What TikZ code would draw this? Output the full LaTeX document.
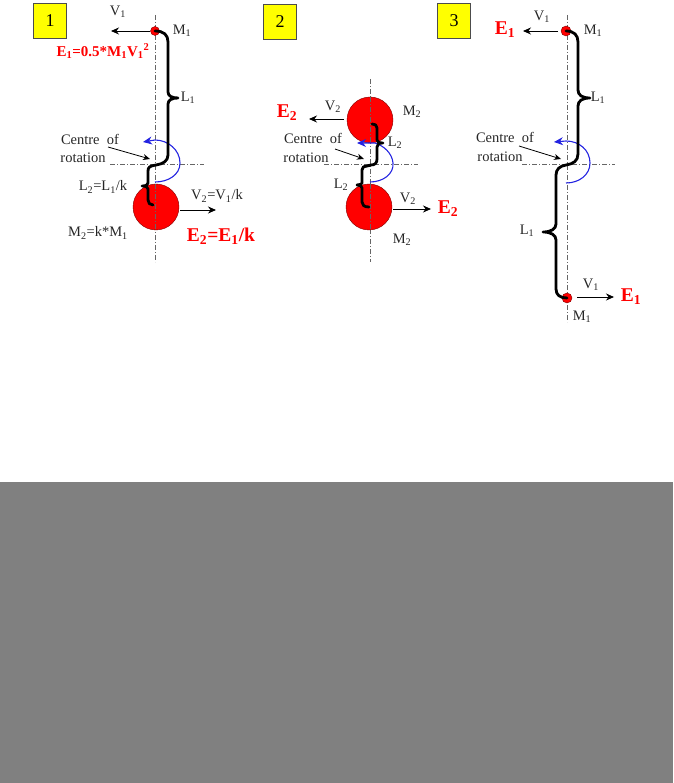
\documentclass[tikz,border=0pt]{standalone}
\usepackage{fontspec}
\setmainfont{Liberation Serif}
\usetikzlibrary{arrows.meta}
\definecolor{myyellow}{RGB}{255,255,0}
\definecolor{myred}{RGB}{255,0,0}
\definecolor{mygray}{RGB}{128,128,128}
\definecolor{myblue}{RGB}{35,35,225}
\tikzset{
	label/.style = {inner sep=0pt, font=\fontsize{14.5}{16}\selectfont, text=black!85},
	energy/.style = {inner sep=0pt, font=\fontsize{19.5}{21}\selectfont\bfseries, text=myred},
	numbox/.style = {draw=black!70, fill=myyellow, minimum width=33pt, minimum height=35pt, inner sep=0pt, font=\fontsize{18}{20}\selectfont},
	mass/.style = {circle, draw=red!50!black, fill=myred, inner sep=0pt},
	axis/.style = {black!60, line width=0.7pt, dash pattern=on 5pt off 2pt on 1pt off 2pt},
	velocity/.style = {black, line width=0.9pt, -{Stealth[length=8pt,width=7pt]}},
	pointer/.style = {black, line width=0.8pt, -{Stealth[length=7pt,width=6pt]}},
	curly/.style = {black, line width=2.8pt, line cap=round, line join=round},
	spin/.style = {myblue, line width=1.1pt, -{Stealth[length=9pt,width=8pt]}}
}
\begin{document}
\begin{tikzpicture}[x=1pt, y=-1pt]

\useasboundingbox (0,0) rectangle (673,783);
\fill[mygray] (0,482) rectangle (673,783);

\foreach \a/\x/\y in {1/50/21,2/280/22,3/454/21}{
	\node [numbox] (box\a) at (\x,\y) {\a};
};

%----------AXES-------------%
\foreach \a/\x/\ytop/\ybot in {1/155/15/262,2/370/79/262,3/567/15/322}{
	\coordinate (vtop\a) at (\x,\ytop);
	\coordinate (vbot\a) at (\x,\ybot);
	\draw[axis] (vtop\a) -- (vbot\a);
};
\foreach \a/\xl/\xr in {1/110/204,2/324/418,3/522/615}{
	\coordinate (hleft\a) at (\xl,164);
	\coordinate (hright\a) at (\xr,164);
	\draw[axis] (hleft\a) -- (hright\a);
};

%----------MASSES-------------%
\node [mass, minimum size=9pt] (ma) at (155,31) {};
\node [mass, minimum size=46pt] (mb) at (156,207) {};
\node [mass, minimum size=46pt] (mc) at (370,120) {};
\node [mass, minimum size=46pt] (md) at (369,207) {};
\node [mass, minimum size=10pt] (me) at (566,31) {};
\node [mass, minimum size=10pt] (mf) at (567,298) {};
\draw[axis] (155,184) -- (155,230);
\draw[axis] (370,97) -- (370,143);
\draw[axis] (370,184) -- (370,230);

%----------SPIN-------------%
\coordinate (spina) at (155,182);
\coordinate (tipa) at (143,142);
\draw[spin] (spina) .. controls (168,182) and (180,175) .. (180,163) .. controls (180,150) and (168,140) .. (155,140) -- (tipa);
\coordinate (spinb) at (370,182);
\coordinate (tipb) at (357,143);
\draw[spin] (spinb) .. controls (383,182) and (394,174) .. (393,163) .. controls (392,153) and (384,146) .. (375,143) -- (tipb);
\coordinate (spinc) at (566,183);
\coordinate (tipc) at (554,142);
\draw[spin] (spinc) .. controls (579,183) and (590,175) .. (590,163) .. controls (590,150) and (579,141) .. (566,141) -- (tipc);

%----------LEVERS-------------%
\draw[curly] (ma.center) .. controls (164,31) and (168,35) .. (168,42) -- (168,92) .. controls (168,96) and (172,98) .. (178,98)
	.. controls (172,98) and (168,100) .. (168,104) -- (168,155) .. controls (168,161) and (163,164) .. (156,165)
	.. controls (150,166) and (148,167) .. (148,171) -- (148,183) .. controls (148,185) and (146,186) .. (142,186)
	.. controls (146,186) and (148,187) .. (148,189) -- (148,200) .. controls (148,203) and (150,205) .. (153,205);

\draw[curly] (372,124) .. controls (375,124) and (377,125) .. (377,128) -- (377,140) .. controls (377,142) and (379,143) .. (383,143)
	.. controls (379,143) and (377,144) .. (377,147) -- (377,159) .. controls (377,163) and (375,165) .. (371,165)
	-- (367,166) .. controls (364,166) and (362,167) .. (362,170) -- (362,183) .. controls (362,184) and (360,185) .. (357,185)
	.. controls (360,185) and (362,186) .. (362,188) -- (362,202) .. controls (362,205) and (364,207) .. (md.center);

\draw[curly] (me.center) .. controls (574,31) and (578,35) .. (578,42) -- (578,90) .. controls (578,95) and (582,98) .. (590,98)
	.. controls (582,98) and (578,101) .. (578,106) -- (578,154) .. controls (578,161) and (573,164) .. (566,165)
	.. controls (560,166) and (556,169) .. (556,175) -- (556,224) .. controls (556,229) and (551,232) .. (543,232)
	.. controls (551,232) and (556,235) .. (556,240) -- (556,289) .. controls (556,295) and (560,298) .. (mf.center);

%----------VELOCITIES-------------%
\coordinate (va) at (150,31);
\coordinate (vaend) at (111,31);
\draw[velocity] (va) -- (vaend);
\coordinate (vb) at (180,210);
\coordinate (vbend) at (216,210);
\draw[velocity] (vb) -- (vbend);
\coordinate (vc) at (344,119);
\coordinate (vcend) at (309,119);
\draw[velocity] (vc) -- (vcend);
\coordinate (vd) at (393,209);
\coordinate (vdend) at (431,209);
\draw[velocity] (vd) -- (vdend);
\coordinate (ve) at (558,31);
\coordinate (veend) at (523,31);
\draw[velocity] (ve) -- (veend);
\coordinate (vf) at (577,297);
\coordinate (vfend) at (614,297);
\draw[velocity] (vf) -- (vfend);

%----------LABELS-------------%
\node [label] (va1) at (118,12) {V\textsubscript{1}};
\node [label] (ma1) at (182,31) {M\textsubscript{1}};
\node [inner sep=0pt, font=\fontsize{15}{17}\selectfont\bfseries, text=myred] (ea1) at (103,51) {E\textsubscript{1}=0.5*M\textsubscript{1}V\textsubscript{1}\textsuperscript{2}};
\node [label] (la1) at (188,98) {L\textsubscript{1}};
\node [label] (lb1) at (103,187) {L\textsubscript{2}=L\textsubscript{1}/k};
\node [label] (vb1) at (217,196) {V\textsubscript{2}=V\textsubscript{1}/k};
\node [label] (mb1) at (98,233) {M\textsubscript{2}=k*M\textsubscript{1}};
\node [energy] (eb1) at (221,236) {E\textsubscript{2}=E\textsubscript{1}/k};

\node [energy] (ec2) at (287,113) {E\textsubscript{2}};
\node [label] (vc2) at (333,107) {V\textsubscript{2}};
\node [label] (mc2) at (412,112) {M\textsubscript{2}};
\node [label] (lc2) at (395,143) {L\textsubscript{2}};
\node [label] (ld2) at (341,185) {L\textsubscript{2}};
\node [label] (vd2) at (408,199) {V\textsubscript{2}};
\node [energy] (ed2) at (448,209) {E\textsubscript{2}};
\node [label] (md2) at (402,240) {M\textsubscript{2}};

\node [energy] (ee3) at (505,30) {E\textsubscript{1}};
\node [label] (ve3) at (542,17) {V\textsubscript{1}};
\node [label] (me3) at (593,31) {M\textsubscript{1}};
\node [label] (le3) at (598,98) {L\textsubscript{1}};
\node [label] (lf3) at (527,231) {L\textsubscript{1}};
\node [label] (vf3) at (591,285) {V\textsubscript{1}};
\node [energy] (ef3) at (631,297) {E\textsubscript{1}};
\node [label] (mf3) at (582,317) {M\textsubscript{1}};

%--------CENTRE OF ROTATION-----------%
\foreach \a/\xa/\ya/\xb/\yb/\xc/\yc/\xd/\yd in {1/90/139/83/158/108/147/150/159,2/313/138/306/158/335/149/364/159,3/505/137/500/157/519/146/561/159}{
	\node [label] (top\a) at (\xa,\ya) {Centre\ \ of};
	\node [label] (bottom\a) at (\xb,\yb) {rotation};
	\coordinate (ptr\a) at (\xc,\yc);
	\coordinate (ptrend\a) at (\xd,\yd);
	\draw[pointer] (ptr\a) -- (ptrend\a);
};

\end{tikzpicture}
\end{document}
